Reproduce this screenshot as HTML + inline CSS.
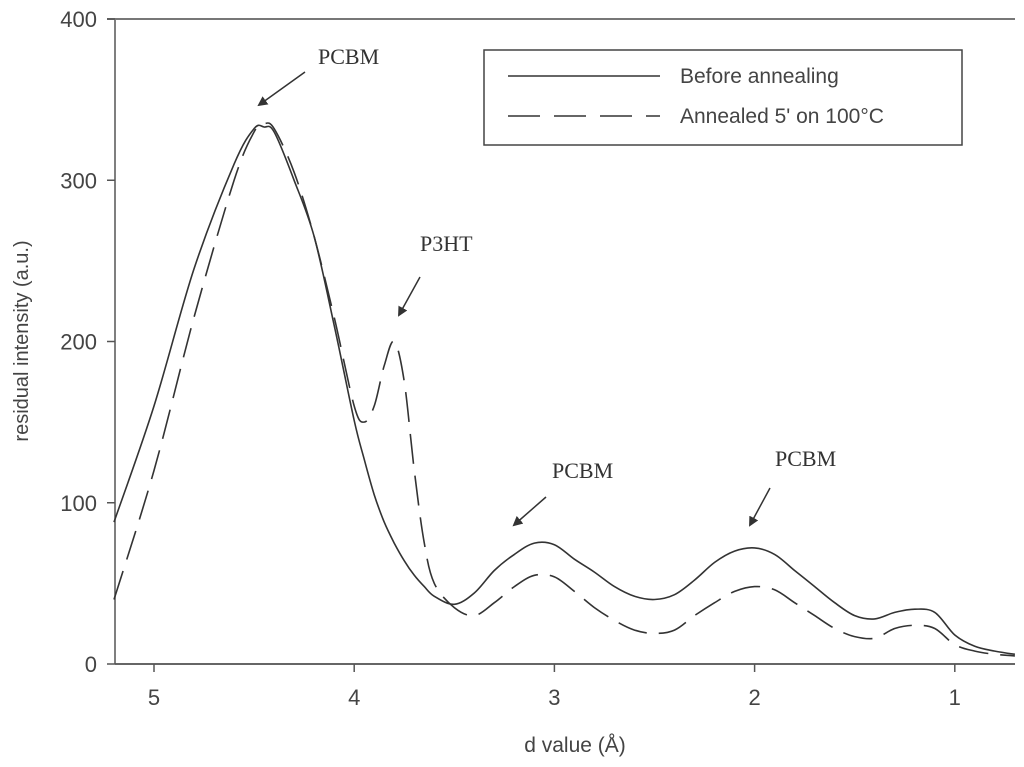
<!DOCTYPE html>
<html><head><meta charset="utf-8"><style>
body{margin:0;background:#fff}
svg{display:block}
text{font-family:"Liberation Sans",Arial,sans-serif;fill:#444}
.ser{font-family:"Liberation Serif",serif;fill:#333}
</style></head><body>
<svg id="chart" width="1024" height="767" viewBox="0 0 1024 767">
<defs><marker id="ah" markerWidth="10" markerHeight="10" refX="8" refY="5" orient="auto" markerUnits="userSpaceOnUse"><path d="M0,0 L10,5 L0,10 z" fill="#333"/></marker></defs>
<g id="axes"></g>
<g id="series"></g>
<g>
<rect x="484" y="50" width="478" height="95" fill="#fff" stroke="#444" stroke-width="1.5"/>
<line x1="508" y1="76" x2="660" y2="76" stroke="#333" stroke-width="1.5"/>
<text x="680" y="83" font-size="21">Before annealing</text>
<line x1="508" y1="116" x2="660" y2="116" stroke="#333" stroke-width="1.5" stroke-dasharray="32,14"/>
<text x="680" y="123" font-size="21">Annealed 5' on 100°C</text>
</g>
<g>
<text class="ser" x="318" y="64" font-size="22">PCBM</text>
<line x1="305" y1="72" x2="259" y2="105" stroke="#333" stroke-width="1.5" marker-end="url(#ah)"/>
<text class="ser" x="420" y="251" font-size="22">P3HT</text>
<line x1="420" y1="277" x2="399" y2="315" stroke="#333" stroke-width="1.5" marker-end="url(#ah)"/>
<text class="ser" x="552" y="478" font-size="22">PCBM</text>
<line x1="546" y1="497" x2="514" y2="525" stroke="#333" stroke-width="1.5" marker-end="url(#ah)"/>
<text class="ser" x="775" y="466" font-size="22">PCBM</text>
<line x1="770" y1="488" x2="750" y2="525" stroke="#333" stroke-width="1.5" marker-end="url(#ah)"/>
</g>
<text x="575" y="752" font-size="21" text-anchor="middle">d value (Å)</text>
<text transform="translate(28,341) rotate(-90)" font-size="20" text-anchor="middle">residual intensity (a.u.)</text>
</svg>
<script>
const dValues=[5.2,5.0,4.8,4.6,4.5,4.45,4.4,4.3,4.2,4.1,4.0,3.95,3.9,3.85,3.8,3.75,3.7,3.65,3.6,3.5,3.4,3.3,3.2,3.1,3.0,2.9,2.8,2.7,2.6,2.5,2.4,2.3,2.2,2.1,2.0,1.9,1.8,1.7,1.6,1.5,1.4,1.3,1.2,1.1,1.0,0.9,0.8,0.7];
const beforeValues=[88,160,245,310,332,333,330,300,265,210,151,127,105,88,75,64,55,48,42,37,44,58,68,75,74,65,57,48,42,40,43,52,63,70,72,68,58,48,38,30,28,32,34,32,18,11,8,6];
const annealedValues=[40,120,215,300,330,335,332,305,265,215,160,150,160,185,200,175,120,75,50,35,30,38,48,55,54,45,35,27,21,19,21,30,38,45,48,46,38,30,22,17,16,22,24,22,12,8,6,5];
const xTicks=[5,4,3,2,1];
const yTicks=[0,100,200,300,400];
const NS="http://www.w3.org/2000/svg";
const X0=115,X1=1015,Y0=664,Y1=19;
const xs=d=>154+(5-d)*200.2;
const ys=v=>Y0-v*(Y0-Y1)/400;
function mk(tag,attrs,parent){const e=document.createElementNS(NS,tag);for(const k in attrs)e.setAttribute(k,attrs[k]);parent.appendChild(e);return e;}
const ax=document.getElementById('axes');
let l=mk('line',{x1:X0,y1:Y0,x2:X1,y2:Y0,stroke:'#666','stroke-width':2},ax);


l=mk('line',{x1:X0,y1:Y0,x2:X0,y2:Y1,stroke:'#555','stroke-width':1.5},ax);


l=mk('line',{x1:X0-8,y1:Y1,x2:X1,y2:Y1,stroke:'#777','stroke-width':2},ax);


xTicks.forEach(t=>{
 const x=xs(t);
 const tk=mk('line',{x1:x,y1:Y0,x2:x,y2:Y0+8,stroke:'#555','stroke-width':1.5},ax);
 
 
 const tx=mk('text',{x:x,y:Y0+41,'font-size':22,'text-anchor':'middle'},ax);tx.textContent=t;
 
 
});
yTicks.forEach(t=>{
 const y=ys(t);
 const tk=mk('line',{x1:X0-8,y1:y,x2:X0,y2:y,stroke:'#555','stroke-width':1.5},ax);
 
 
 const tx=mk('text',{x:X0-18,y:y+8,'font-size':22,'text-anchor':'end'},ax);tx.textContent=t;
 
 
});
const sg=document.getElementById('series');
function path(vals){
 const P=dValues.map((d,i)=>[xs(d),ys(vals[i])]);
 let s='M'+P[0][0].toFixed(1)+','+P[0][1].toFixed(1);
 for(let i=0;i<P.length-1;i++){
  const p0=P[i-1]||P[i],p1=P[i],p2=P[i+1],p3=P[i+2]||P[i+1];
  const c1=[p1[0]+(p2[0]-p0[0])/6,p1[1]+(p2[1]-p0[1])/6];
  const c2=[p2[0]-(p3[0]-p1[0])/6,p2[1]-(p3[1]-p1[1])/6];
  s+=' C'+c1[0].toFixed(1)+','+c1[1].toFixed(1)+' '+c2[0].toFixed(1)+','+c2[1].toFixed(1)+' '+p2[0].toFixed(1)+','+p2[1].toFixed(1);
 }
 return s;
}
let p=mk('path',{d:path(beforeValues),fill:'none',stroke:'#333','stroke-width':1.6,'stroke-linejoin':'round'},sg);


p=mk('path',{d:path(annealedValues),fill:'none',stroke:'#333','stroke-width':1.6,'stroke-dasharray':'30,12'},sg);


</script>
</body></html>
